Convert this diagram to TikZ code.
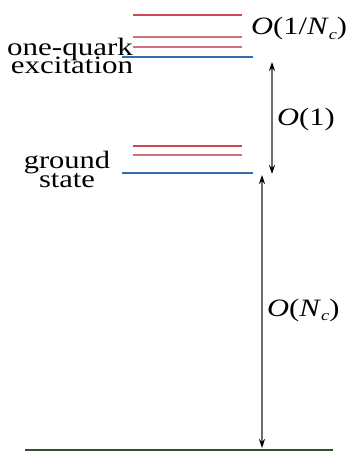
\documentclass[tikz,border=0pt]{standalone}
\usepackage{fontspec}
\setmainfont{Liberation Serif}
\usepackage{graphicx}
\usetikzlibrary{arrows.meta}
\definecolor{redA}{RGB}{205,70,85}
\definecolor{redB}{RGB}{205,115,125}
\definecolor{blueL}{RGB}{50,110,170}
\definecolor{greenL}{RGB}{40,85,45}
\definecolor{arrgray}{RGB}{110,110,110}
\newcommand{\wide}[2]{\scalebox{#1}[1]{#2}}
\tikzset{
  lbl/.style={inner sep=0pt, anchor=base, font=\fontsize{25}{17}\selectfont},
  olbl/.style={inner sep=0pt, anchor=base west, font=\fontsize{25}{25}\selectfont},
  redline/.style={draw=redA, line width=1.8pt},
  pinkline/.style={draw=redB, line width=1.8pt},
  blueline/.style={draw=blueL, line width=1.8pt},
  groundline/.style={draw=greenL, line width=2.6pt},
  dim/.style={draw=arrgray, line width=1.4pt,
    {Stealth[black,length=9pt,width=6pt]}-{Stealth[black,length=9pt,width=6pt]}}
}
\begin{document}
\begin{tikzpicture}[x=1pt,y=-1pt]
\useasboundingbox (0,0) rectangle (347,452);
% one-quark excitation levels
\draw[redline] (133,15) -- (242,15);
\draw[pinkline] (133,37) -- (242,37);
\draw[pinkline] (133,47) -- (242,47);
\draw[blueline] (122,57) -- (253,57);
% ground state levels
\draw[redline] (133,146) -- (242,146);
\draw[pinkline] (133,155) -- (242,155);
\draw[blueline] (122,173) -- (253,173);
% vacuum
\draw[groundline] (25,450) -- (333,450);
% labels
\node[lbl] (oq1) at (70,56) {\wide{1.24}{one-quark}};
\node[lbl] (oq2) at (72,74) {\wide{1.24}{excitation}};
\node[lbl] (gs1) at (67,168) {\wide{1.22}{ground}};
\node[lbl] (gs2) at (67,187) {\wide{1.22}{state}};
% dimension arrows
\coordinate (a1t) at (272,62);
\coordinate (a1b) at (272,174);
\coordinate (a2t) at (262,175);
\coordinate (a2b) at (262,448);
\draw[dim] (a1t) -- (a1b);
\draw[dim] (a2t) -- (a2b);
\node[olbl] (o1n) at (251,35) {\wide{1.22}{\textit{O}(1/\textit{N}\raisebox{-0.35ex}{\fontsize{15}{15}\selectfont\textit{c}})}};
\node[olbl] (o1) at (277,125) {\wide{1.22}{\textit{O}(1)}};
\node[olbl] (onc) at (267,316) {\wide{1.22}{\textit{O}(\textit{N}\raisebox{-0.35ex}{\fontsize{15}{15}\selectfont\textit{c}})}};
\end{tikzpicture}
\end{document}
